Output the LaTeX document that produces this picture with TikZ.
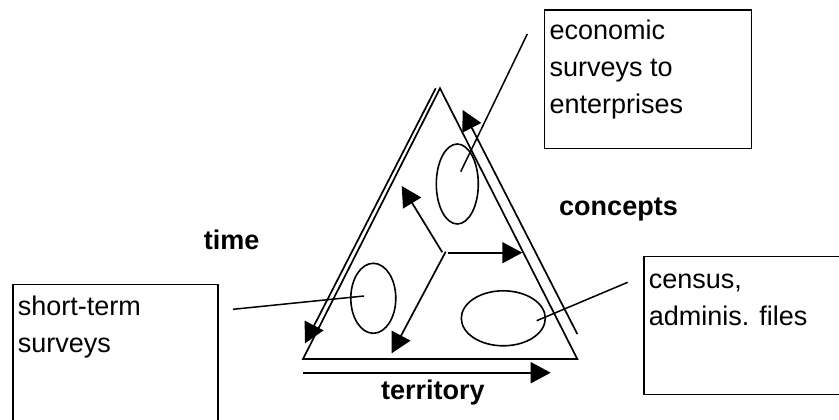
\documentclass[tikz,border=0pt]{standalone}
\usepackage{fontspec}
\setmainfont{Liberation Sans}
\usetikzlibrary{arrows.meta,shapes.geometric}
\begin{document}
\begin{tikzpicture}[x=1pt,y=-1pt,
  every node/.style={font=\fontsize{27}{37}\selectfont},
  ln/.style={line width=1.7pt},
  arr/.style={ln,-{Triangle[length=20pt,width=21pt]}},
  infobox/.style={draw,line width=1.3pt,rectangle,anchor=north west,
    inner xsep=5pt,inner ysep=0pt,align=left},
  oval/.style={draw,ellipse,line width=1.6pt,inner sep=0pt},
  axis/.style={font=\fontsize{27}{37}\selectfont\bfseries,anchor=base,inner sep=0pt}]
\useasboundingbox (0,0) rectangle (839,420);
\clip (0,0) rectangle (839,420);
% triangle
\coordinate (A) at (440,88.3);
\coordinate (B) at (303,359);
\coordinate (C) at (577.3,359);
\draw[ln,line join=miter] (A) -- (B) -- (C) -- cycle;
% outer axis arrows
\coordinate (t1) at (435.7,88.3);
\coordinate (t2) at (305,343.3);
\draw[arr] (t1) -- (t2);
\coordinate (c1) at (577.3,334);
\coordinate (c2) at (462.7,110);
\draw[arr] (c1) -- (c2);
\coordinate (r1) at (303.3,372.7);
\coordinate (r2) at (550.7,372.7);
\draw[arr] (r1) -- (r2);
% inner arrows
\coordinate (o1) at (442.3,252.3);
\coordinate (o2) at (448.3,252.7);
\coordinate (o3) at (445.7,251.7);
\coordinate (i1) at (401.7,186);
\coordinate (i2) at (522.3,252.7);
\coordinate (i3) at (391.7,353.3);
\draw[arr] (o1) -- (i1);
\draw[arr] (o2) -- (i2);
\draw[arr] (o3) -- (i3);
% ellipses
\node[oval,minimum width=42pt,minimum height=80pt] (etop) at (457.3,184) {};
\node[oval,minimum width=45pt,minimum height=70pt] (eleft) at (373.3,298.3) {};
\node[oval,minimum width=84pt,minimum height=55pt] (eright) at (503.3,318.3) {};
% boxes
\node[infobox,text height=30pt,text depth=108.4pt] (beco) at (544,9.3)
  {\parbox[t]{196.7pt}{economic\\surveys to\\enterprises}};
\node[infobox,text height=31pt,text depth=107pt] (bshort) at (12.3,284)
  {\parbox[t]{195pt}{short-term\\surveys}};
\node[infobox,text height=32.3pt,text depth=105.7pt] (bcensus) at (643.3,256)
  {\parbox[t]{196.7pt}{census,\\adminis. files}};
% leader lines
\coordinate (l1a) at (460.7,171.7);
\coordinate (l1b) at (527.3,34);
\draw[ln,line width=1.5pt] (l1a) -- (l1b);
\coordinate (l2a) at (364,296);
\coordinate (l2b) at (233,309.3);
\draw[ln,line width=1.5pt] (l2a) -- (l2b);
\coordinate (l3a) at (536.7,320.7);
\coordinate (l3b) at (627.7,282.3);
\draw[ln,line width=1.5pt] (l3a) -- (l3b);
% axis labels
\node[axis] (ltime) at (231.7,249.3) {time};
\node[axis] (lconc) at (618.5,215) {concepts};
\node[axis] (lterr) at (432.8,399.3) {territory};
\end{tikzpicture}
\end{document}
